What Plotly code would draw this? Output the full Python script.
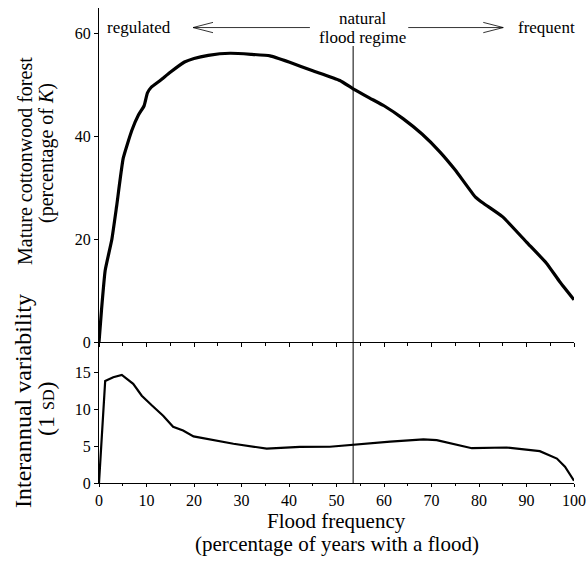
import plotly.graph_objects as go

# Top panel: mature cottonwood forest (% of K)
flood_freq_top = [0, 0.5, 1.3, 2.7, 3.7, 5.1, 6.9, 8.3, 9.5, 10.2, 11, 13, 15, 18, 20, 23,
                  27.6, 32, 36, 40, 45, 50.7, 53.5, 57, 60, 64, 68, 71.8, 75, 79.2, 81,
                  85, 90, 94.2, 97, 100]
mature_forest = [0, 6, 14, 20, 26.4, 35.8, 41.2, 44.2, 46, 48.5, 49.6, 51, 52.5, 54.5, 55.2, 55.8,
                 56.2, 56, 55.7, 54.5, 52.8, 50.9, 49.3, 47.5, 46, 43.5, 40.5, 37, 33.5, 28.3, 27,
                 24.4, 19.5, 15.4, 11.8, 8.3]

# Bottom panel: interannual variability (1 SD)
flood_freq_bot = [0, 1.3, 3, 4.8, 7.2, 9, 11.1, 13.5, 15.6, 17.7, 19.9, 24, 28.3, 35.3, 42.3,
                  48.6, 53.5, 61.3, 68.3, 71.1, 78.5, 85.8, 92.8, 96.4, 98.1, 100]
variability = [0, 13.8, 14.3, 14.6, 13.4, 11.8, 10.5, 9.1, 7.6, 7.1, 6.3, 5.8, 5.3, 4.65, 4.87,
               4.9, 5.2, 5.6, 5.9, 5.8, 4.7, 4.8, 4.3, 3.3, 2.2, 0.3]

x_ticks = [0, 10, 20, 30, 40, 50, 60, 70, 80, 90, 100]
top_y_ticks = [0, 20, 40, 60]
bot_y_ticks = [0, 5, 10, 15]
natural_regime_x = 53.5

FONT = "Liberation Serif"
fig = go.Figure()
fig.add_trace(go.Scatter(x=flood_freq_top, y=mature_forest, mode="lines",
                         line=dict(color="black", width=3.2, shape="spline", smoothing=0.4),
                         xaxis="x", yaxis="y", showlegend=False))
fig.add_trace(go.Scatter(x=flood_freq_bot, y=variability, mode="lines",
                         line=dict(color="black", width=2.2), xaxis="x2", yaxis="y2",
                         showlegend=False))

split = 0.296
axis_common = dict(showgrid=False, zeroline=False, showline=True, linecolor="black",
                   linewidth=1, ticks="outside", tickcolor="black", ticklen=4,
                   tickfont=dict(family=FONT, size=16, color="black"))

fig.update_layout(
    width=587, height=570,
    margin=dict(l=99, r=13, t=8, b=87, autoexpand=False),
    paper_bgcolor="white", plot_bgcolor="white",
    xaxis=dict(domain=[0, 1], range=[0, 100], anchor="y", tickvals=x_ticks,
               showticklabels=False, minor=dict(dtick=5, ticks="outside", ticklen=3,
                                               tickcolor="black"), **axis_common),
    yaxis=dict(domain=[split, 1], range=[0, 65], anchor="x", tickvals=top_y_ticks,
               **axis_common),
    xaxis2=dict(domain=[0, 1], range=[0, 100], anchor="y2", tickvals=x_ticks,
                minor=dict(dtick=5, ticks="outside", ticklen=2, tickcolor="black"),
                **{**axis_common, "ticklen": 3}),
    yaxis2=dict(domain=[0, split], range=[0, 19], anchor="x2", tickvals=bot_y_ticks,
                **axis_common),
)

# vertical line marking the natural flood regime
fig.add_shape(type="line", xref="x", yref="paper", x0=natural_regime_x, x1=natural_regime_x,
              y0=0, y1=0.92, line=dict(color="black", width=1))

# arrows
arrow_y = 61.2
aline = dict(color="black", width=0.8)
# left arrow
fig.add_shape(type="line", xref="x", yref="y", x0=44.4, x1=19.8, y0=arrow_y, y1=arrow_y, line=aline)
fig.add_shape(type="line", xref="x", yref="y", x0=19.8, x1=24.0, y0=arrow_y, y1=arrow_y + 1.0, line=aline)
fig.add_shape(type="line", xref="x", yref="y", x0=19.8, x1=24.0, y0=arrow_y, y1=arrow_y - 1.0, line=aline)
# right arrow
fig.add_shape(type="line", xref="x", yref="y", x0=65.1, x1=85.1, y0=arrow_y, y1=arrow_y, line=aline)
fig.add_shape(type="line", xref="x", yref="y", x0=85.1, x1=80.9, y0=arrow_y, y1=arrow_y + 1.0, line=aline)
fig.add_shape(type="line", xref="x", yref="y", x0=85.1, x1=80.9, y0=arrow_y, y1=arrow_y - 1.0, line=aline)

tfont = dict(family=FONT, size=17, color="black")
fig.add_annotation(x=1.3, y=arrow_y, xref="x", yref="y", text="regulated", showarrow=False,
                   xanchor="left", yanchor="middle", font=tfont)
fig.add_annotation(x=55.4, y=63.0, xref="x", yref="y", text="natural", showarrow=False,
                   xanchor="center", yanchor="middle", font=tfont)
fig.add_annotation(x=55.4, y=59.2, xref="x", yref="y", text="flood regime", showarrow=False,
                   xanchor="center", yanchor="middle", font=tfont)
fig.add_annotation(x=94.3, y=arrow_y, xref="x", yref="y", text="frequent", showarrow=False,
                   xanchor="center", yanchor="middle", font=tfont)

# axis titles as annotations (pixel positions relative to paper)
W, H = 587, 570
L, R, T, B = 99, 13, 8, 87
pw, ph = W - L - R, H - T - B

def px_to_paper(px, py):
    return (px - L) / pw, (H - B - py) / ph

for text, px, py, size in [("Mature cottonwood forest", 25, 161, 20),
                           ("(percentage of <i>K</i>)", 47, 153, 20),
                           ("Interannual variability", 23, 401, 24),
                           ("(1 <span style='font-size:16px'>SD</span>)", 46, 409, 24)]:
    xp, yp = px_to_paper(px, py)
    fig.add_annotation(x=xp, y=yp, xref="paper", yref="paper", text=text, showarrow=False,
                       textangle=-90, xanchor="center", yanchor="middle",
                       font=dict(family=FONT, size=size, color="black"))

xt = dict(family=FONT, size=21, color="black")
for text, py in [("Flood frequency", 521), ("(percentage of years with a flood)", 544)]:
    xp, yp = px_to_paper(336.5, py)
    fig.add_annotation(x=xp, y=yp, xref="paper", yref="paper", text=text, showarrow=False,
                       xanchor="center", yanchor="middle", font=xt)

fig.write_html("out.html", config={"displayModeBar": False})

# remove default page margin so the figure sits at the window's top-left corner
with open("out.html", "r", encoding="utf-8") as f:
    html = f.read()
html = html.replace("<head>", "<head><style>html,body{margin:0;padding:0;overflow:hidden;}</style>", 1)
with open("out.html", "w", encoding="utf-8") as f:
    f.write(html)
